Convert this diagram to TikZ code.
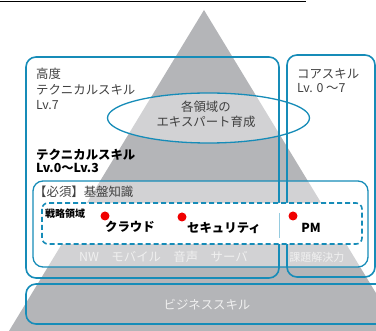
\documentclass[tikz,border=0pt]{standalone}
\usepackage{fontspec}
\setmainfont{Noto Sans CJK JP}
\definecolor{skblue}{RGB}{22,140,184}
\definecolor{pyrgray}{RGB}{180,181,184}
\definecolor{txtgray}{RGB}{64,64,64}
\definecolor{dotred}{RGB}{240,0,0}
\begin{document}
\begin{tikzpicture}[x=1pt, y=-1pt,
    box/.style={draw=skblue, line width=1.6pt, rounded corners=10pt},
    lbl/.style={inner sep=0pt, anchor=west, text=txtgray, font=\fontsize{12.4}{16}\selectfont},
    blbl/.style={lbl, text=black, font=\fontsize{12.4}{16}\selectfont\bfseries},
    wlbl/.style={inner sep=0pt, text=white!94!black, font=\fontsize{12.4}{16}\selectfont}]
\useasboundingbox (0,0) rectangle (376,331);
\clip (0,0) rectangle (376,331);

\draw[line width=0.8pt] (0,1.5) -- (306,1.5);
\fill[pyrgray] (204,10) -- (399,331) -- (9,331) -- cycle;

% lighter areas on the pyramid
\fill[white, fill opacity=0.4] (208.5,118) ellipse [x radius=101, y radius=25];
\fill[white, fill opacity=0.4, rounded corners=10pt] (33,181) rectangle (368,267);

\draw[box] (26,57) rectangle (279,278);
\draw[box] (287,55) rectangle (375,277);
\draw[box, line width=1.3pt] (33,181) rectangle (368,267);
\draw[box] (26,284) rectangle (392,324);
\draw[skblue, line width=1.3pt] (208.5,118) ellipse [x radius=101, y radius=25];
\draw[skblue, line width=1.6pt, dash pattern=on 5pt off 3pt, fill=white, rounded corners=6pt] (42,203) rectangle (362,244);
\draw[skblue!45, line width=0.8pt] (279,213) -- (279,238);

\node[lbl] (kodo) at (36,73.5) {高度};
\node[lbl] (tech) at (36,90) {テクニカルスキル};
\node[lbl] (lv7) at (36,105) {Lv.7};
\node[lbl, anchor=center] (exp1) at (206,107) {各領域の};
\node[lbl, anchor=center] (exp2) at (206,122) {エキスパート育成};
\node[blbl] (tech2) at (36,155) {テクニカルスキル};
\node[blbl] (lv03) at (36,168) {Lv.0〜Lv.3};
\node[lbl] (kiban) at (34,192) {【必須】基盤知識};
\node[lbl, text=black, font=\fontsize{10}{12}\selectfont\bfseries] (senryaku) at (45,214) {戦略領域};
\node[blbl, anchor=center] (cloud) at (130,227) {クラウド};
\node[blbl, anchor=center] (sec) at (224,228) {セキュリティ};
\node[blbl, anchor=center] (pm) at (311,228) {PM};
\foreach \x/\y in {105/216, 182/217, 293/216}
    \fill[dotred] (\x,\y) circle (4.5pt);

\node[wlbl] (field) at (163.5,257) {NW\quad モバイル\quad 音声\quad サーバ};
\node[wlbl, font=\fontsize{11}{13}\selectfont] (kadai) at (317,257) {課題解決力};
\node[lbl] (core) at (297,74) {コアスキル};
\node[lbl] (lv07) at (297,88) {Lv. 0 〜7};
\node[wlbl] (biz) at (207,305) {ビジネススキル};
\end{tikzpicture}
\end{document}
